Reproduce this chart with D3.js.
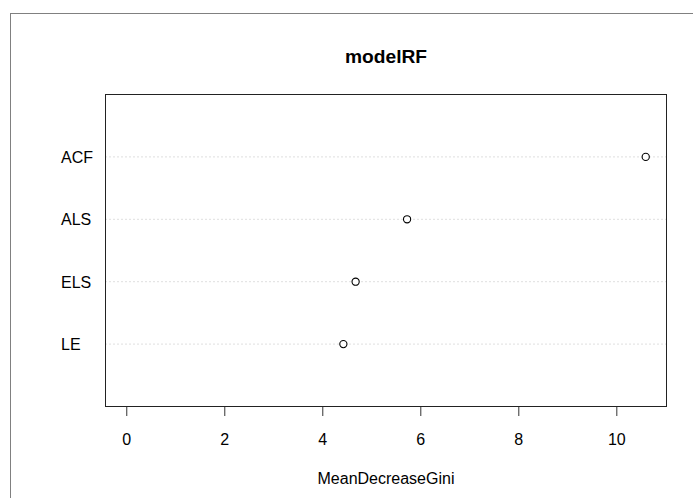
<!DOCTYPE html>
<html>
<head>
<meta charset="utf-8">
<script src="https://cdn.jsdelivr.net/npm/d3@7"></script>
<style>
    body { margin: 0; background: #ffffff; }
    text { font-family: "Liberation Sans", Arial, sans-serif; fill: #000; }
</style>
</head>
<body>
<div id="dataviz"></div>
<script>
"use strict";

// Data (top to bottom as drawn)
var variables = ["ACF", "ALS", "ELS", "LE"];
var meanDecreaseGini = [10.6, 5.73, 4.68, 4.43];
var xTicks = [0, 2, 4, 6, 8, 10];

var chartTitle = "modelRF";
var xLabel = "MeanDecreaseGini";

function renderChart(){

    const WIDTH = 693;
    const HEIGHT = 498;

    // plot box
    var box = { left: 105.5, top: 94.5, right: 666.5, bottom: 406.5 };

    var svg = d3.select("#dataviz").append("svg")
        .attr("width", WIDTH)
        .attr("height", HEIGHT);

    // outer figure frame (only top/left visible)
    svg.append("rect")
        .attr("x", 10.5)
        .attr("y", 13.5)
        .attr("width", 700)
        .attr("height", 500)
        .attr("fill", "none")
        .attr("stroke", "#808080")
        .attr("stroke-width", 1);

    // Scales: R style 4% expansion of [0, max]
    var xMax = d3.max(meanDecreaseGini);
    var pad = xMax * 0.04;
    var xScale = d3.scaleLinear()
        .domain([0 - pad, xMax + pad])
        .range([box.left, box.right]);

    // ylim = c(0, n+1), first variable on top
    var n = variables.length;
    var yScale = d3.scaleLinear()
        .domain([0, n + 1])
        .range([box.bottom, box.top]);
    function yPos(i){
        return yScale(n - i);
    }

    // dotted guide lines
    svg.selectAll(".guide")
        .data(variables)
        .enter().append("line")
        .attr("class", "guide")
        .attr("x1", box.left)
        .attr("x2", box.right)
        .attr("y1", function (d, i) { return yPos(i); })
        .attr("y2", function (d, i) { return yPos(i); })
        .attr("stroke", "#bebebe")
        .attr("stroke-width", 1)
        .attr("stroke-dasharray", "1,3");

    // category labels (left aligned like dotchart)
    svg.selectAll(".ylab")
        .data(variables)
        .enter().append("text")
        .attr("class", "ylab")
        .attr("x", 61)
        .attr("y", function (d, i) { return yPos(i) + 6; })
        .attr("text-anchor", "start")
        .style("font-size", "16px")
        .text(function (d) { return d; });

    // points
    svg.selectAll(".pt")
        .data(meanDecreaseGini)
        .enter().append("circle")
        .attr("class", "pt")
        .attr("cx", function (d) { return xScale(d); })
        .attr("cy", function (d, i) { return yPos(i); })
        .attr("r", 3.6)
        .attr("fill", "#ffffff")
        .attr("stroke", "#000")
        .attr("stroke-width", 1.1);

    // plot box
    svg.append("rect")
        .attr("x", box.left)
        .attr("y", box.top)
        .attr("width", box.right - box.left)
        .attr("height", box.bottom - box.top)
        .attr("fill", "none")
        .attr("stroke", "#222")
        .attr("stroke-width", 1);

    // x axis
    var xAxis = d3.axisBottom(xScale)
        .tickValues(xTicks)
        .tickSize(9)
        .tickPadding(18)
        .tickSizeOuter(0);

    var gx = svg.append("g")
        .attr("transform", "translate(0," + (box.bottom + 0.5) + ")")
        .call(xAxis);
    gx.select(".domain").remove();
    gx.selectAll(".tick line").attr("stroke", "#333");
    gx.selectAll(".tick text")
        .style("font-family", "'Liberation Sans', Arial, sans-serif")
        .style("font-size", "16px")
        .attr("fill", "#000");

    // title
    svg.append("text")
        .attr("x", (box.left + box.right) / 2)
        .attr("y", 62.5)
        .attr("text-anchor", "middle")
        .style("font-size", "19.2px")
        .style("font-weight", "bold")
        .text(chartTitle);

    // x label
    svg.append("text")
        .attr("x", (box.left + box.right) / 2)
        .attr("y", 483.5)
        .attr("text-anchor", "middle")
        .style("font-size", "16px")
        .text(xLabel);
}

renderChart();
</script>
</body>
</html>
